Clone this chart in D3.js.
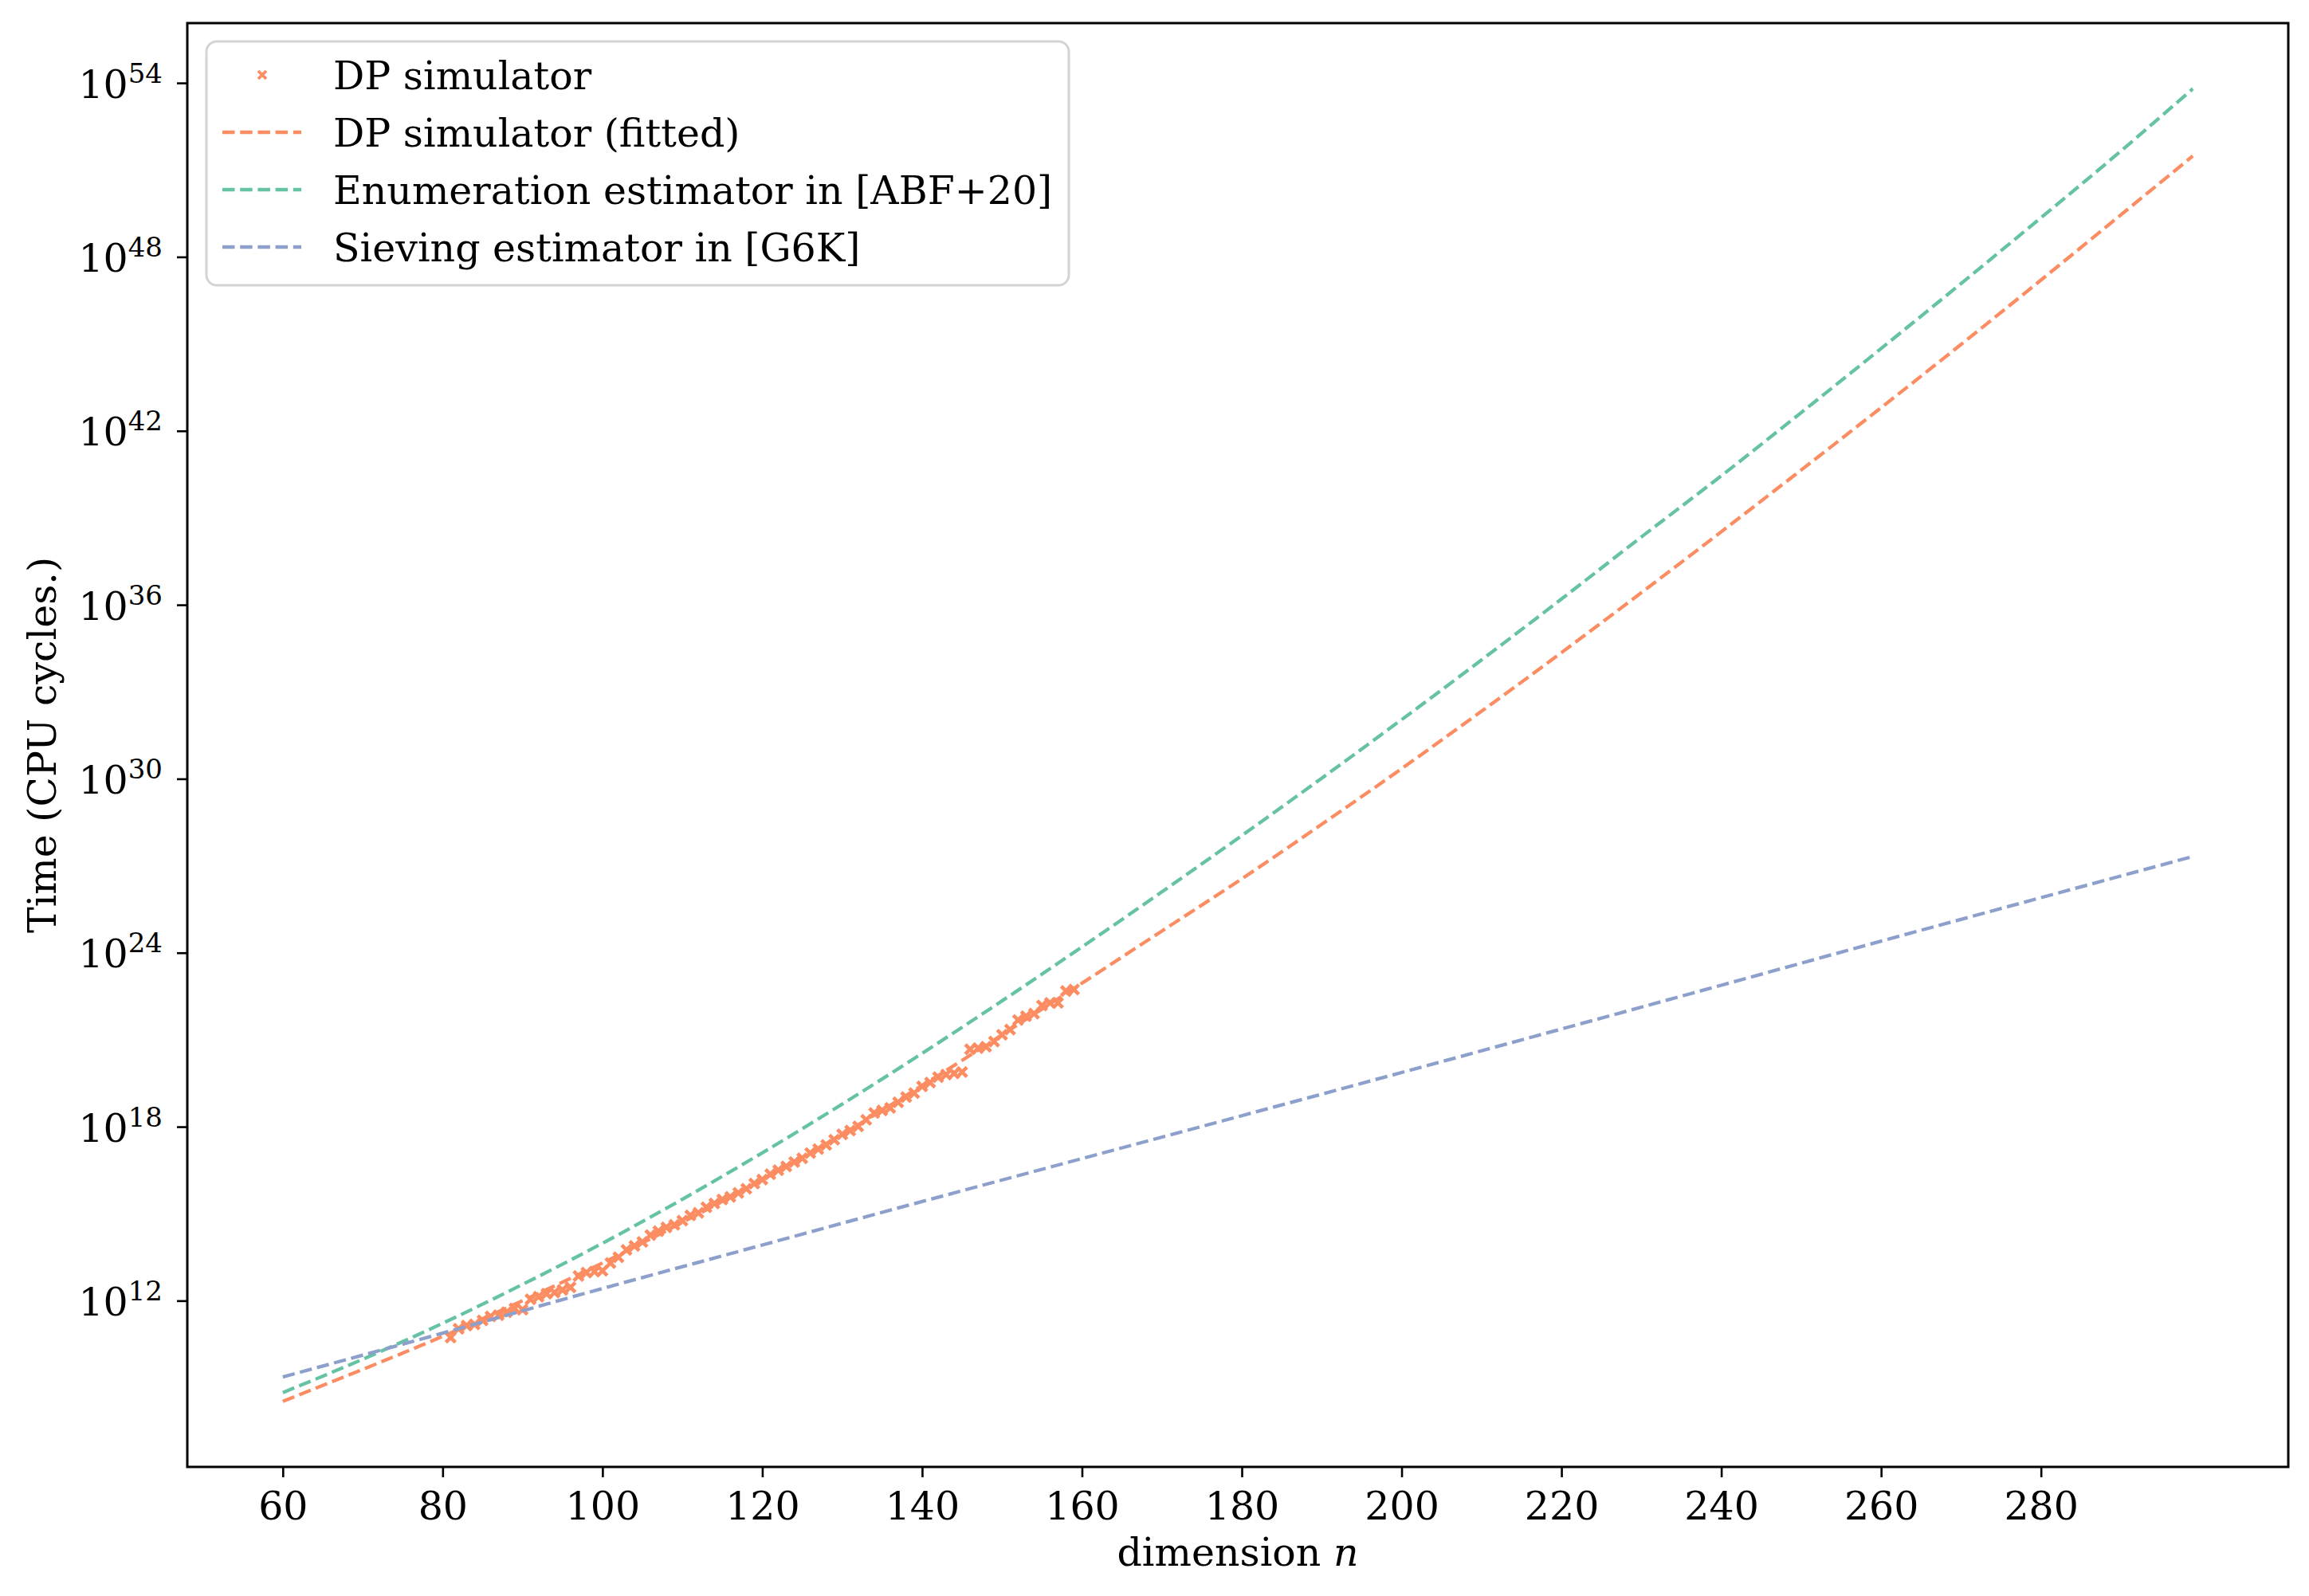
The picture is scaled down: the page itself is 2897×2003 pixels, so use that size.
<!DOCTYPE html>
<html>
<head>
<meta charset="utf-8">
<script src="https://cdn.jsdelivr.net/npm/d3@7"></script>
<style>
  html, body { margin: 0; padding: 0; background: #ffffff; }
  svg { display: block; }
  text { font-family: "DejaVu Serif", serif; fill: #000; }
</style>
</head>
<body>
<svg id="chart" width="2897" height="2003"></svg>
<script>
// ---------------- DATA (log10 of CPU cycles) ----------------
const curveN = [60, 70, 80, 90, 100, 110, 120, 130, 140, 150, 160, 170, 180, 190, 200,
                210, 220, 230, 240, 250, 260, 270, 280, 290, 299];
const enumLog10 = [8.83, 9.98, 11.22, 12.56, 13.98, 15.50, 17.10, 18.78, 20.53, 22.34, 24.20,
                   26.10, 28.04, 30.02, 32.04, 34.10, 36.20, 38.34, 40.45, 42.63, 44.84,
                   47.08, 49.35, 51.65, 53.80];
const fittedLog10 = [8.53, 9.63, 10.77, 12.00, 13.30, 14.70, 16.17, 17.74, 19.42, 21.17, 22.95,
                     24.75, 26.55, 28.43, 30.35, 32.33, 34.35, 36.42, 38.52, 40.65, 42.80,
                     44.98, 47.20, 49.45, 51.48];
const sieveN = [60, 80, 100, 120, 140, 160, 180, 200, 220, 240, 260, 280, 299];
const sieveLog10 = [9.37, 10.88, 12.42, 13.92, 15.42, 16.90, 18.38, 19.87, 21.37, 22.88, 24.40, 25.90, 27.32];

const simN = [81, 82, 83, 84, 85, 86, 87, 88, 89, 90, 91, 92, 93, 94, 95, 96, 97, 98, 99, 100,
              101, 102, 103, 104, 105, 106, 107, 108, 109, 110, 111, 112, 113, 114, 115, 116, 117, 118, 119, 120,
              121, 122, 123, 124, 125, 126, 127, 128, 129, 130, 131, 132, 133, 134, 135, 136, 137, 138, 139, 140,
              141, 142, 143, 144, 145, 146, 147, 148, 149, 150, 151, 152, 153, 154, 155, 156, 157, 158, 159];
const simLog10 = [10.73, 11.03, 11.14, 11.18, 11.32, 11.46, 11.50, 11.60, 11.73, 11.69,
                  12.05, 12.14, 12.24, 12.28, 12.37, 12.46, 12.85, 12.97, 13.00, 13.03,
                  13.30, 13.50, 13.75, 13.89, 14.03, 14.26, 14.40, 14.53, 14.62, 14.76,
                  14.94, 15.03, 15.22, 15.35, 15.49, 15.58, 15.72, 15.86, 16.04, 16.18,
                  16.36, 16.50, 16.63, 16.78, 16.91, 17.09, 17.23, 17.37, 17.55, 17.74,
                  17.87, 18.01, 18.24, 18.47, 18.56, 18.65, 18.84, 19.02, 19.16, 19.39,
                  19.52, 19.71, 19.80, 19.84, 19.89, 20.67, 20.71, 20.76, 20.94, 21.17,
                  21.35, 21.68, 21.81, 21.90, 22.18, 22.27, 22.27, 22.68, 22.73];

const xTicks = [60, 80, 100, 120, 140, 160, 180, 200, 220, 240, 260, 280];
const yTickExponents = [12, 18, 24, 30, 36, 42, 48, 54];

const labels = {
  sim: "DP simulator",
  fitted: "DP simulator (fitted)",
  enumeration: "Enumeration estimator in [ABF+20]",
  sieving: "Sieving estimator in [G6K]",
  yTitle: "Time (CPU cycles.)",
  xTitle: "dimension "
};
const colors = { orange: "#fc8d62", green: "#66c2a5", blue: "#8da0cb" };

// ---------------- LAYOUT ----------------
const X0 = 235, X1 = 2871, Y0 = 29, Y1 = 1841;
const FONT = 49;
const LW = 4.3, DASH = "15.5 6.7";

const svg = d3.select("#chart");

// matplotlib-like 5% autoscale margins
const allN = curveN.concat(sieveN, simN);
const nMin = d3.min(allN), nMax = d3.max(allN);
const nPad = 0.05 * (nMax - nMin);
const allL = enumLog10.concat(fittedLog10, sieveLog10, simLog10);
const lMin = d3.min(allL), lMax = d3.max(allL);
const lPad = 0.05 * (lMax - lMin);

const x = d3.scaleLinear().domain([nMin - nPad, nMax + nPad]).range([X0, X1]);
const y = d3.scaleLog().domain([Math.pow(10, lMin - lPad), Math.pow(10, lMax + lPad)]).range([Y1, Y0]);

const toPts = (ns, ls) => ns.map((n, i) => ({ n: n, v: Math.pow(10, ls[i]) }));

const plot = svg.append("g");

// ---------------- MARKERS ----------------
const xMarker = (s) => `M${-s},${-s}L${s},${s}M${-s},${s}L${s},${-s}`;
plot.append("g").selectAll("path")
  .data(toPts(simN, simLog10))
  .join("path")
  .attr("transform", d => `translate(${x(d.n)},${y(d.v)})`)
  .attr("d", xMarker(6))
  .attr("fill", "none")
  .attr("stroke", colors.orange)
  .attr("stroke-width", 4.6);

// ---------------- LINES ----------------
const line = d3.line().x(d => x(d.n)).y(d => y(d.v)).curve(d3.curveMonotoneX);
const series = [
  { pts: toPts(curveN, fittedLog10), color: colors.orange },
  { pts: toPts(curveN, enumLog10), color: colors.green },
  { pts: toPts(sieveN, sieveLog10), color: colors.blue }
];
plot.append("g").selectAll("path")
  .data(series)
  .join("path")
  .attr("d", d => line(d.pts))
  .attr("fill", "none")
  .attr("stroke", d => d.color)
  .attr("stroke-width", LW)
  .attr("stroke-dasharray", DASH)
  .attr("stroke-linecap", "butt");

// ---------------- AXES ----------------
const xAxis = d3.axisBottom(x).tickValues(xTicks).tickSize(13).tickSizeOuter(0).tickFormat(d3.format("d"));
const gx = svg.append("g").attr("transform", `translate(0,${Y1})`).call(xAxis);
gx.select(".domain").remove();
gx.selectAll(".tick line").attr("stroke", "#000").attr("stroke-width", 2.6);
gx.selectAll(".tick text")
  .attr("y", 66).attr("dy", null)
  .attr("font-size", FONT)
  .attr("font-family", "DejaVu Serif")
  .attr("fill", "#000");

const yAxis = d3.axisLeft(y).tickValues(yTickExponents.map(e => Math.pow(10, e))).tickSize(13).tickSizeOuter(0).tickFormat("");
const gy = svg.append("g").attr("transform", `translate(${X0},0)`).call(yAxis);
gy.select(".domain").remove();
gy.selectAll(".tick line").attr("stroke", "#000").attr("stroke-width", 2.6);
gy.selectAll(".tick").each(function(d, i) {
  const t = d3.select(this).select("text")
    .attr("x", -31).attr("y", 18).attr("dy", null)
    .attr("text-anchor", "end")
    .attr("font-family", "DejaVu Serif")
    .attr("fill", "#000");
  t.text(null);
  t.append("tspan").attr("font-size", FONT).text("10");
  t.append("tspan").attr("font-size", 34).attr("dy", -19).text(String(yTickExponents[i]));
});

// frame
svg.append("rect")
  .attr("x", X0).attr("y", Y0).attr("width", X1 - X0).attr("height", Y1 - Y0)
  .attr("fill", "none").attr("stroke", "#000").attr("stroke-width", 3);

// axis titles
svg.append("text")
  .attr("x", (X0 + X1) / 2).attr("y", 1965)
  .attr("text-anchor", "middle").attr("font-size", FONT)
  .call(t => {
    t.append("tspan").text(labels.xTitle);
    t.append("tspan").attr("font-style", "italic").text("n");
  });

svg.append("text")
  .attr("transform", "rotate(-90)")
  .attr("x", -(Y0 + Y1) / 2).attr("y", 70)
  .attr("text-anchor", "middle").attr("font-size", FONT)
  .text(labels.yTitle);

// ---------------- LEGEND ----------------
const lg = svg.append("g");
lg.append("rect")
  .attr("x", 259).attr("y", 52).attr("width", 1082).attr("height", 306)
  .attr("rx", 13).attr("ry", 13)
  .attr("fill", "#fff").attr("fill-opacity", 0.8)
  .attr("stroke", "#d3d3d3").attr("stroke-width", 3);

const legendItems = [
  { label: labels.sim, color: colors.orange, kind: "marker" },
  { label: labels.fitted, color: colors.orange, kind: "line" },
  { label: labels.enumeration, color: colors.green, kind: "line" },
  { label: labels.sieving, color: colors.blue, kind: "line" }
];
legendItems.forEach((it, i) => {
  const base = 112 + i * 72;
  const cy = base - 18;
  if (it.kind === "marker") {
    lg.append("path").attr("transform", `translate(329,${cy})`).attr("d", xMarker(5))
      .attr("fill", "none").attr("stroke", it.color).attr("stroke-width", 3.8);
  } else {
    lg.append("line").attr("x1", 279).attr("x2", 378).attr("y1", cy).attr("y2", cy)
      .attr("stroke", it.color).attr("stroke-width", LW).attr("stroke-dasharray", DASH);
  }
  lg.append("text").attr("x", 418).attr("y", base).attr("font-size", FONT).text(it.label);
});
</script>
</body>
</html>
